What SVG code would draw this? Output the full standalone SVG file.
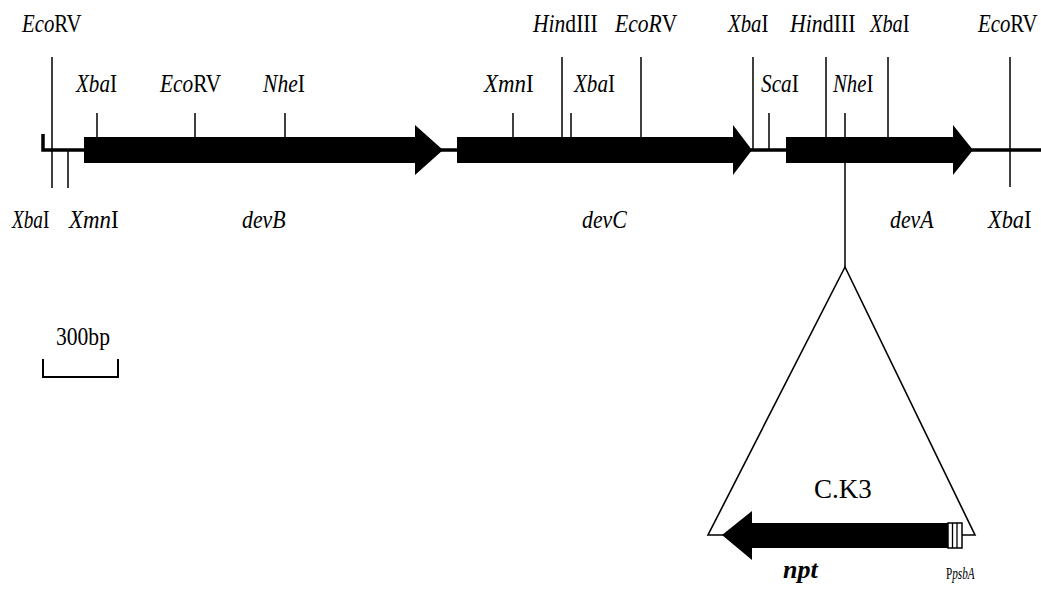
<svg xmlns="http://www.w3.org/2000/svg" width="1041" height="591" viewBox="0 0 1041 591">
<style>
text{font-family:"Liberation Serif","Times New Roman",serif;fill:#000}
.lbl{font-size:26px}
.i{font-style:italic}
.site{stroke:#000;stroke-width:1.5;fill:none}
.bb{stroke:#000;stroke-width:3.5;fill:none}
.gene{fill:#000;stroke:none}
</style>
<rect width="1041" height="591" fill="#fff"/>
<g id="connectors">
  <path class="bb" d="M43 134 V150 H1041"/>
  <path class="site" d="M52 57V188 M68 150V188 M97 113V137 M195 113V137 M285 113V137 M513 113V137 M562 57V137 M571 113V137 M641 57V137 M753 57V150 M769 113V150 M826 57V137 M845 113V267 M888 57V137 M1010 57V187"/>
</g>
<g id="devB"><polygon class="gene" points="84,137 415,137 415,125 443,150 415,175 415,163 84,163"/><text class="lbl i" transform="translate(242,228) scale(0.84,1)">devB</text></g>
<g id="devC"><polygon class="gene" points="457,137 733,137 733,125 752,150 733,175 733,163 457,163"/><text class="lbl i" transform="translate(582,228) scale(0.84,1)">devC</text></g>
<g id="devA"><polygon class="gene" points="786,137 953,137 953,125 973,150 953,175 953,163 786,163"/><text class="lbl i" transform="translate(890,228) scale(0.84,1)">devA</text></g>
<g id="site-labels">
  <text class="lbl" transform="translate(22,32) scale(0.8,1)"><tspan class="i">Eco</tspan>RV</text>
  <text class="lbl" transform="translate(533,32) scale(0.83,1)"><tspan class="i">Hin</tspan>dIII</text>
  <text class="lbl" transform="translate(615,32) scale(0.83,1)"><tspan class="i">EcoR</tspan>V</text>
  <text class="lbl" transform="translate(728,32) scale(0.8,1)"><tspan class="i">Xba</tspan>I</text>
  <text class="lbl" transform="translate(790,32) scale(0.84,1)"><tspan class="i">Hin</tspan>dIII</text>
  <text class="lbl" transform="translate(870,32) scale(0.78,1)"><tspan class="i">Xba</tspan>I</text>
  <text class="lbl" transform="translate(978,32) scale(0.8,1)"><tspan class="i">Eco</tspan>RV</text>
  <text class="lbl" transform="translate(76,92) scale(0.81,1)"><tspan class="i">Xba</tspan>I</text>
  <text class="lbl" transform="translate(160,92) scale(0.82,1)"><tspan class="i">Eco</tspan>RV</text>
  <text class="lbl" transform="translate(263,92) scale(0.83,1)"><tspan class="i">Nhe</tspan>I</text>
  <text class="lbl" transform="translate(484,92) scale(0.88,1)"><tspan class="i">Xmn</tspan>I</text>
  <text class="lbl" transform="translate(574,92) scale(0.81,1)"><tspan class="i">Xba</tspan>I</text>
  <text class="lbl" transform="translate(761,92) scale(0.82,1)"><tspan class="i">Sca</tspan>I</text>
  <text class="lbl" transform="translate(833,92) scale(0.8,1)"><tspan class="i">Nhe</tspan>I</text>
  <text class="lbl" transform="translate(12,228) scale(0.74,1)"><tspan class="i">Xba</tspan>I</text>
  <text class="lbl" transform="translate(69,228) scale(0.88,1)"><tspan class="i">Xmn</tspan>I</text>
  <text class="lbl" transform="translate(988,228) scale(0.86,1)"><tspan class="i">Xba</tspan>I</text>
</g>
<g id="scale-bar">
  <text class="lbl" transform="translate(56,345) scale(0.83,1)">300bp</text>
  <path d="M43 359V377H118V359" stroke="#000" stroke-width="2" fill="none"/>
</g>
<g id="insert">
  <polygon points="845,267 708,535 975,535" fill="none" stroke="#000" stroke-width="1.6"/>
  <text x="843" y="498" font-size="27" text-anchor="middle">C.K3</text>
  <polygon class="gene" points="722,535 752,511 752,523 948,523 948,548 752,548 752,560"/>
  <rect x="948" y="523" width="14" height="25" fill="#fff" stroke="#000" stroke-width="1.5"/>
  <path d="M952.5 523V548 M957 523V548" stroke="#000" stroke-width="1.3"/>
  <text x="783" y="578" font-size="26" font-weight="bold" font-style="italic">npt</text>
  <text transform="translate(946,579) scale(0.7,1)" font-size="16">P<tspan font-style="italic">psbA</tspan></text>
</g>
</svg>
